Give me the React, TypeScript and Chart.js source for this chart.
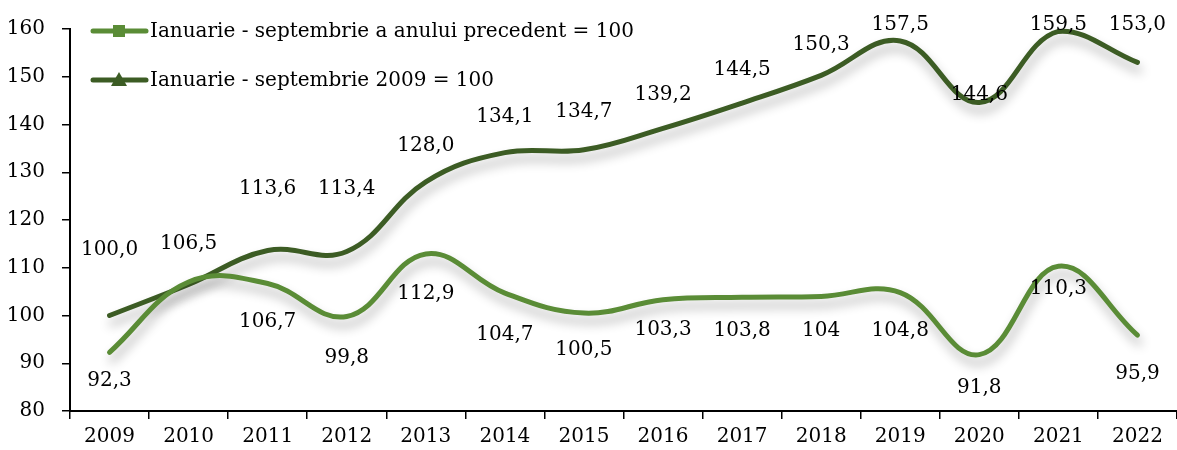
import { useEffect, useRef } from 'react';
import { Chart, registerables } from 'chart.js';

Chart.register(...registerables);

const years = ['2009', '2010', '2011', '2012', '2013', '2014', '2015', '2016', '2017', '2018', '2019', '2020', '2021', '2022'];
const prevYearIndex = [92.3, 107.0, 106.7, 99.8, 112.9, 104.7, 100.5, 103.3, 103.8, 104.0, 104.8, 91.8, 110.3, 95.9];
const base2009Index = [100.0, 106.5, 113.6, 113.4, 128.0, 134.1, 134.7, 139.2, 144.5, 150.3, 157.5, 144.6, 159.5, 153.0];
const prevYearLabels = ['92,3', '', '106,7', '99,8', '112,9', '104,7', '100,5', '103,3', '103,8', '104', '104,8', '91,8', '110,3', '95,9'];
const base2009Labels = ['100,0', '106,5', '113,6', '113,4', '128,0', '134,1', '134,7', '139,2', '144,5', '150,3', '157,5', '144,6', '159,5', '153,0'];
const seriesNames = ['Ianuarie - septembrie a anului precedent = 100', 'Ianuarie - septembrie 2009 = 100'];
const yMin = 80;
const yMax = 160;
const yStep = 10;

// label vertical offsets (px) relative to each point
const prevLabelDy = [29, 0, 38, 41, 40, 42, 37, 30, 33, 34, 38, 33, 22, 39];
const baseLabelDy = [-66, -41, -62, -63, -36, -36, -38, -34, -33, -31, -16, -8, -7, -38];

const LIGHT = '#5A8C36';
const DARK = '#3C5C24';
const FONT_FAMILY = '"DejaVu Serif", "Liberation Serif", serif';
const FONT_SIZE = 20;

const shadowPlugin = {
  id: 'lineShadow',
  beforeDatasetsDraw(chart: any) {
    const ctx = chart.ctx;
    ctx.save();
    ctx.shadowColor = 'rgba(0,0,0,0.3)';
    ctx.shadowBlur = 11;
    ctx.shadowOffsetX = 2;
    ctx.shadowOffsetY = 8;
  },
  afterDatasetsDraw(chart: any) {
    chart.ctx.restore();
  },
};

const labelsPlugin = {
  id: 'valueLabels',
  afterDraw(chart: any) {
    const ctx = chart.ctx;
    ctx.save();
    ctx.font = `${FONT_SIZE}px ${FONT_FAMILY}`;
    ctx.fillStyle = '#000';
    ctx.textAlign = 'center';
    ctx.textBaseline = 'middle';
    const sets = [
      { idx: 0, labels: prevYearLabels, dy: prevLabelDy },
      { idx: 1, labels: base2009Labels, dy: baseLabelDy },
    ];
    sets.forEach((s) => {
      const meta = chart.getDatasetMeta(s.idx);
      meta.data.forEach((pt: any, i: number) => {
        const t = s.labels[i];
        if (!t) return;
        ctx.fillText(t, pt.x, pt.y + s.dy[i]);
      });
    });

    // legend
    const entries = [
      { color: LIGHT, marker: 'square', y: 31, text: seriesNames[0] },
      { color: DARK, marker: 'triangle', y: 80, text: seriesNames[1] },
    ];
    entries.forEach((e) => {
      ctx.strokeStyle = e.color;
      ctx.lineWidth = 5;
      ctx.lineCap = 'round';
      ctx.beginPath();
      ctx.moveTo(93, e.y);
      ctx.lineTo(146, e.y);
      ctx.stroke();
      ctx.fillStyle = e.color;
      const cx = 119;
      if (e.marker === 'square') {
        ctx.fillRect(cx - 6, e.y - 6, 12, 12);
      } else {
        ctx.beginPath();
        ctx.moveTo(cx, e.y - 8);
        ctx.lineTo(cx + 8, e.y + 6);
        ctx.lineTo(cx - 8, e.y + 6);
        ctx.closePath();
        ctx.fill();
      }
      ctx.fillStyle = '#000';
      ctx.textAlign = 'left';
      ctx.fillText(e.text, 150, e.y + 1);
    });
    ctx.restore();
  },
};

export default function App() {
  const ref = useRef<HTMLCanvasElement | null>(null);

  useEffect(() => {
    document.body.style.margin = '0';
    const canvas = ref.current;
    if (!canvas) return;
    const font = { family: FONT_FAMILY, size: FONT_SIZE };
    const chart = new Chart(canvas, {
      type: 'line',
      data: {
        labels: years,
        datasets: [
          {
            label: seriesNames[0],
            data: prevYearIndex,
            borderColor: LIGHT,
            backgroundColor: LIGHT,
            borderWidth: 5,
            pointRadius: 0,
            tension: 0.4,
            borderCapStyle: 'round',
            clip: false,
          },
          {
            label: seriesNames[1],
            data: base2009Index,
            borderColor: DARK,
            backgroundColor: DARK,
            borderWidth: 5,
            pointRadius: 0,
            tension: 0.4,
            borderCapStyle: 'round',
            clip: false,
          },
        ],
      },
      options: {
        responsive: false,
        animation: false,
        devicePixelRatio: 1,
        layout: { padding: { top: 28, right: 0, left: 0, bottom: 0 } },
        plugins: {
          legend: { display: false },
          tooltip: { enabled: false },
        },
        scales: {
          x: {
            type: 'category',
            offset: true,
            grid: {
              display: true,
              offset: true,
              drawOnChartArea: false,
              drawTicks: true,
              tickLength: 8,
              color: '#000',
              lineWidth: 1.5,
            },
            border: { display: true, color: '#000', width: 2 },
            ticks: { font, color: '#000', padding: 6, maxRotation: 0, autoSkip: false },
            afterFit(scale: any) {
              scale.height = 39;
            },
          },
          y: {
            min: yMin,
            max: yMax,
            grid: {
              display: true,
              drawOnChartArea: false,
              drawTicks: true,
              tickLength: 8,
              color: '#000',
              lineWidth: 1.5,
            },
            border: { display: true, color: '#000', width: 2 },
            ticks: { stepSize: yStep, font, color: '#000', padding: 17 },
            afterFit(scale: any) {
              scale.width = 70;
            },
          },
        },
      },
      plugins: [shadowPlugin, labelsPlugin],
    } as any);
    return () => chart.destroy();
  }, []);

  return (
    <div style={{ width: 1177, height: 450 }}>
      <canvas ref={ref} width={1177} height={450} style={{ width: 1177, height: 450, display: 'block' }} />
    </div>
  );
}
